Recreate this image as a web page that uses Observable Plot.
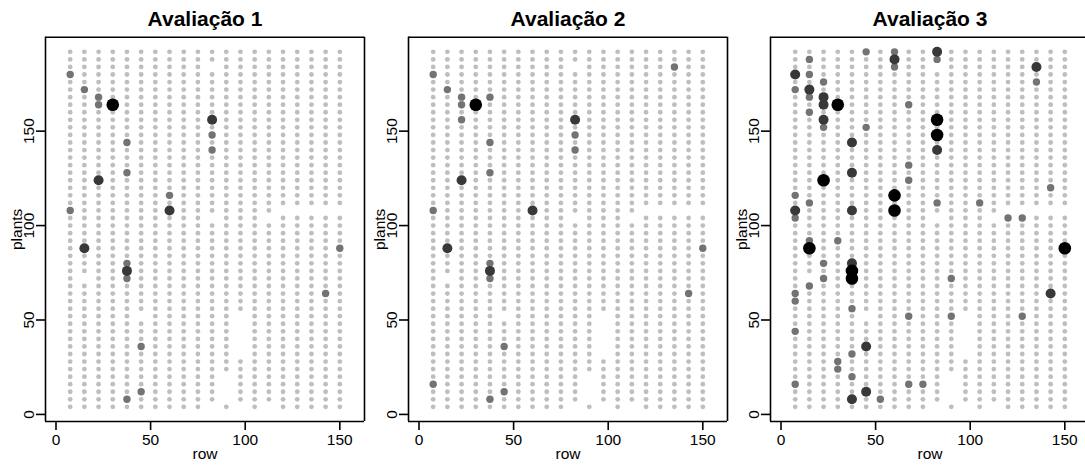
<!DOCTYPE html>
<html><head><meta charset="utf-8">
<script src="https://cdn.jsdelivr.net/npm/d3@7"></script>
<script src="https://cdn.jsdelivr.net/npm/@observablehq/plot@0.6"></script>
<style>
body{margin:0;overflow:hidden;background:#fff;}
#wrap{position:relative;width:1085px;height:466px;overflow:hidden;background:#fff;}
.panel{position:absolute;top:0;width:368px;height:466px;}
.panel svg{max-width:none !important;overflow:visible;}
</style></head><body><div id="wrap"></div>
<script>
// field grid (x = "row", y = "plants")
const rowValues = [7.5,15,22.5,30,37.5,45,52.5,60,67.5,75,82.5,90,97.5,105,112.5,120,127.5,135,142.5,150];
const plantValues = [4,8,12,16,20,24,28,32,36,40,44,48,52,56,60,64,68,72,76,80,84,88,92,96,100,104,108,112,116,120,124,128,132,136,140,144,148,152,156,160,164,168,172,176,180,184,188,192];
// positions without a plant
const missing = [[82.5,184],[82.5,104],[112.5,104],[120,108],[127.5,108],[135,108],[142.5,108],[150,108],
 [15,72],[45,52],[90,20],[90,16],[90,12],[90,8],
 [97.5,52],[97.5,48],[97.5,44],[97.5,40],[97.5,36],[97.5,32],[97.5,4],[82.5,4],[112.5,4]];
// diseased plants: [row, plant, severity level]
const aval1 = [[7.5,180,1],[7.5,108,1],[15,172,1],[15,88,2],[22.5,168,1],[22.5,164,1],[22.5,124,2],[30,164,3],[37.5,144,1],[37.5,128,1],[37.5,80,1],[37.5,76,2],[37.5,72,1],[37.5,8,1],[45,36,1],[45,12,1],[60,116,1],[60,108,2],[82.5,156,2],[82.5,148,1],[82.5,140,1],[142.5,64,1],[150,88,1]];
const aval2 = [[7.5,180,1],[7.5,108,1],[7.5,16,1],[15,172,1],[15,88,2],[22.5,168,1],[22.5,164,1],[22.5,156,1],[22.5,124,2],[30,164,3],[37.5,168,1],[37.5,144,1],[37.5,128,1],[37.5,80,1],[37.5,76,2],[37.5,72,1],[37.5,8,1],[45,36,1],[45,12,1],[60,108,2],[82.5,156,2],[82.5,148,1],[82.5,140,1],[135,184,1],[142.5,64,1],[150,88,1]];
const aval3 = [[7.5,180,2],[7.5,172,1],[7.5,116,1],[7.5,108,2],[7.5,104,1],[7.5,64,1],[7.5,60,1],[7.5,44,1],[7.5,16,1],
 [15,188,1],[15,180,1],[15,172,2],[15,168,1],[15,160,1],[15,112,1],[15,92,1],[15,88,3],[15,68,1],
 [22.5,176,1],[22.5,168,2],[22.5,164,2],[22.5,156,2],[22.5,152,1],[22.5,124,3],[22.5,80,1],[22.5,72,1],
 [30,164,3],[30,92,1],[30,28,1],[30,24,1],
 [37.5,144,2],[37.5,128,2],[37.5,108,2],[37.5,80,2],[37.5,76,3],[37.5,72,3],[37.5,56,1],[37.5,32,1],[37.5,20,1],[37.5,8,2],
 [45,192,1],[45,152,1],[45,36,2],[45,12,2],[52.5,8,1],
 [60,192,1],[60,188,2],[60,184,1],[60,116,3],[60,108,3],
 [67.5,164,1],[67.5,132,1],[67.5,124,1],[67.5,52,1],[67.5,16,1],[75,16,1],
 [82.5,192,2],[82.5,188,1],[82.5,156,3],[82.5,148,3],[82.5,140,2],[82.5,112,1],
 [90,72,1],[90,52,1],[105,112,1],[120,104,1],[127.5,104,1],[127.5,52,1],
 [135,184,2],[135,176,1],[142.5,120,1],[142.5,64,2],[150,88,3]];
const titles = ["Avaliação 1","Avaliação 2","Avaliação 3"];
const tickValues = [0,50,100,150];
const levels = [0,1,2,3];

const panels = [aval1, aval2, aval3];
const svgLeft = [0, 362.7, 725];
const xDom = [-5.55, 163.05], yDom = [-3.75, 199.75];
const font = '"Liberation Sans", Arial, Helvetica, sans-serif';
const missKey = new Set(missing.map(d => d[0] + "_" + d[1]));

panels.forEach((aval, i) => {
  const lv = new Map(aval.map(d => [d[0] + "_" + d[1], d[2]]));
  const pts = [];
  for (const r of rowValues) for (const p of plantValues) {
    const k = r + "_" + p;
    if (missKey.has(k) && !lv.has(k)) continue;
    pts.push({row: r, plant: p, level: lv.has(k) ? lv.get(k) : 0});
  }
  const chart = Plot.plot({
    width: 368, height: 466,
    marginLeft: 45, marginRight: 4, marginTop: 36.7, marginBottom: 45,
    x: {domain: xDom},
    y: {domain: yDom},
    r: {type: "linear", domain: [0, 3], range: [2.4, 6.3]},
    color: {type: "ordinal", domain: levels, range: ["#BEBEBE", "#737373", "#383838", "#000000"]},
    style: {fontFamily: font, fontSize: "15.5px", background: "transparent", color: "black", overflow: "visible"},
    marks: [
      Plot.dot(pts, {x: "row", y: "plant", r: "level", fill: "level", sort: d => d.level}),
      Plot.ruleX(xDom, {stroke: "black", strokeWidth: 1.6}),
      Plot.ruleY(yDom, {stroke: "black", strokeWidth: 1.6}),
      Plot.axisX({ticks: tickValues, tickSize: 9, tickPadding: 3, label: null, strokeWidth: 1.6, fontSize: 15.5}),
      Plot.axisY({ticks: tickValues, tickSize: 9, tickFormat: () => "", label: null, strokeWidth: 1.6}),
      Plot.text(tickValues, {y: d => d, text: d => String(d), frameAnchor: "left", dx: -11.5, rotate: -90, textAnchor: "middle", lineAnchor: "bottom", fontSize: 15.5}),
      Plot.text(["plants"], {text: d => d, frameAnchor: "left", dx: -23.3, rotate: -90, textAnchor: "middle", lineAnchor: "bottom", fontSize: 15.5}),
      Plot.text(["row"], {text: d => d, frameAnchor: "bottom", dy: 37, lineAnchor: "bottom", fontSize: 15.5}),
      Plot.text([titles[i]], {text: d => d, frameAnchor: "top", dy: -11.7, lineAnchor: "bottom", fontWeight: "bold", fontSize: 21})
    ]
  });
  const div = document.createElement("div");
  div.className = "panel";
  div.style.left = svgLeft[i] + "px";
  div.appendChild(chart);
  document.getElementById("wrap").appendChild(div);
});
</script></body></html>
